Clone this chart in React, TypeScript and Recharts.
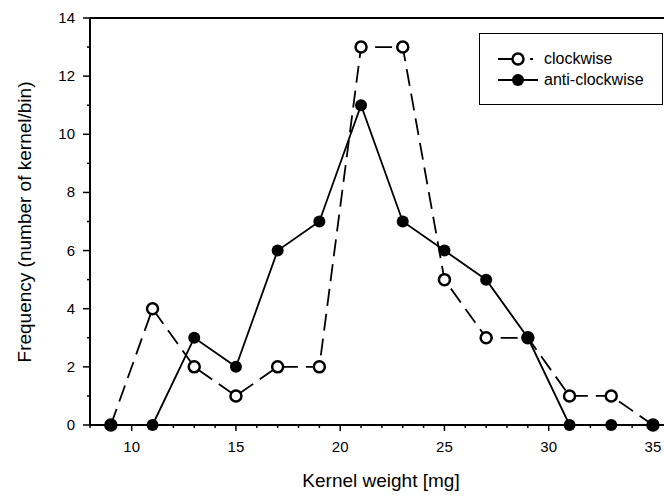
import { LineChart, Line, XAxis, YAxis, Legend, ReferenceLine } from 'recharts';

// bin centres (mg)
const weights = [9, 11, 13, 15, 17, 19, 21, 23, 25, 27, 29, 31, 33, 35];
const clockwise = [0, 4, 2, 1, 2, 2, 13, 13, 5, 3, 3, 1, 1, 0];
const antiClockwise = [0, 0, 3, 2, 6, 7, 11, 7, 6, 5, 3, 0, 0, 0];

const xTicks = [8, 9, 10, 11, 12, 13, 14, 15, 16, 17, 18, 19, 20, 21, 22, 23, 24, 25, 26, 27, 28, 29, 30, 31, 32, 33, 34, 35];
const yTicks = [0, 1, 2, 3, 4, 5, 6, 7, 8, 9, 10, 11, 12, 13, 14];

const data = weights.map((w, i) => ({ w, cw: clockwise[i], acw: antiClockwise[i] }));

const FONT = '"Liberation Sans", Arial, sans-serif';

function XTick({ x, y, payload }: any) {
  const major = payload.value % 5 === 0;
  return (
    <g>
      <line x1={x} x2={x} y1={major ? y : y - 1} y2={major ? y + 6 : y + 3} stroke="#000" strokeWidth={1.5} />
      {major && (
        <text x={x} y={y + 27} textAnchor="middle" fontSize={15} fontFamily={FONT} fill="#000">
          {payload.value}
        </text>
      )}
    </g>
  );
}

function YTick({ x, y, payload }: any) {
  const major = payload.value % 2 === 0;
  return (
    <g>
      <line x1={major ? x - 7 : x - 3} x2={x} y1={y} y2={y} stroke="#000" strokeWidth={1.5} />
      {major && (
        <text x={x - 15} y={y + 5} textAnchor="end" fontSize={15} fontFamily={FONT} fill="#000">
          {payload.value}
        </text>
      )}
    </g>
  );
}

function OpenDot({ cx, cy }: any) {
  return <circle cx={cx} cy={cy} r={5.5} fill="#fff" stroke="#000" strokeWidth={2.5} />;
}

function FilledDot({ cx, cy }: any) {
  return <circle cx={cx} cy={cy} r={6} fill="#000" stroke="none" />;
}

function LegendBox() {
  const row = (dashed: boolean, filled: boolean, label: string, top: number) => (
    <div style={{ position: 'absolute', left: 16, top, display: 'flex', alignItems: 'center', height: 18 }}>
      <svg width={48} height={16}>
        {dashed ? (
          <>
            <line x1={2} x2={18} y1={8} y2={8} stroke="#000" strokeWidth={2} />
            <line x1={34} x2={37} y1={8} y2={8} stroke="#000" strokeWidth={2} />
          </>
        ) : (
          <line x1={2} x2={42} y1={8} y2={8} stroke="#000" strokeWidth={2} />
        )}
        {filled ? (
          <circle cx={22} cy={8} r={6} fill="#000" />
        ) : (
          <circle cx={22} cy={8} r={5.5} fill="#fff" stroke="#000" strokeWidth={2.5} />
        )}
      </svg>
      <span style={{ fontFamily: FONT, fontSize: 16, color: '#000', lineHeight: '18px' }}>{label}</span>
    </div>
  );
  return (
    <div
      style={{
        position: 'relative',
        width: 184,
        height: 72,
        border: '1.5px solid #000',
        background: '#fff',
        boxSizing: 'border-box',
      }}
    >
      {row(true, false, 'clockwise', 16)}
      {row(false, true, 'anti-clockwise', 37)}
    </div>
  );
}

export default function App() {
  return (
    <div style={{ position: 'absolute', left: 0, top: 0, width: 664, height: 498, background: '#fff' }}>
      <LineChart width={664} height={498} data={data} margin={{ top: 18, right: 0, bottom: 0, left: 0 }}>
        <XAxis
          dataKey="w"
          type="number"
          domain={[8, 35.53]}
          ticks={xTicks}
          allowDataOverflow
          interval={0}
          height={73}
          tickSize={0}
          tickMargin={0}
          tickLine={false}
          tick={<XTick />}
          axisLine={{ stroke: '#000', strokeWidth: 2 }}
          label={{
            content: () => (
              <text x={381} y={487} textAnchor="middle" fontSize={19} fontFamily={FONT} fill="#000">
                Kernel weight [mg]
              </text>
            ),
          }}
        />
        <YAxis
          type="number"
          domain={[0, 14]}
          ticks={yTicks}
          interval={0}
          width={90}
          tickSize={0}
          tickMargin={0}
          tickLine={false}
          tick={<YTick />}
          axisLine={{ stroke: '#000', strokeWidth: 2 }}
          label={{
            content: () => (
              <text
                x={31}
                y={222}
                transform="rotate(-90 31 222)"
                textAnchor="middle"
                fontSize={19}
                fontFamily={FONT}
                fill="#000"
              >
                Frequency (number of kernel/bin)
              </text>
            ),
          }}
        />
        <ReferenceLine y={14} stroke="#000" strokeWidth={2} ifOverflow="visible" />
        <Legend
          verticalAlign="middle"
          align="center"
          layout="horizontal"
          wrapperStyle={{ position: 'absolute', left: 479, top: 33, width: 184 }}
          content={() => <LegendBox />}
        />
        <Line
          dataKey="cw"
          stroke="#000"
          strokeWidth={1.8}
          strokeDasharray="17 8"
          dot={<OpenDot />}
          activeDot={false}
          isAnimationActive={false}
        />
        <Line
          dataKey="acw"
          stroke="#000"
          strokeWidth={1.8}
          dot={<FilledDot />}
          activeDot={false}
          isAnimationActive={false}
        />
      </LineChart>
    </div>
  );
}
